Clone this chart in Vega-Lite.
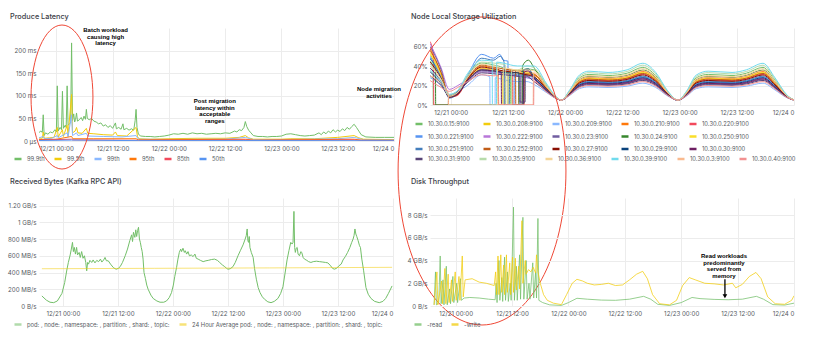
{
"$schema":"https://vega.github.io/schema/vega-lite/v6.json",
"background":"white",
"padding":{"left":7,"top":13,"right":4,"bottom":4},
"columns":2,
"bounds":"flush",
"spacing":{"row":57,"column":36},
"resolve":{"scale":{"color":"independent"},"legend":{"color":"independent"}},
"config":{
 "font":"Inter",
 "view":{"stroke":null},
 "axis":{"domain":false,"ticks":false,"labelFontSize":6.2,"labelColor":"#555a61","gridColor":"#ececec","gridWidth":1,"labelPadding":4,"labelOverlap":false},
 "axisY":{"labelPadding":3},
 "title":{"fontSize":7.3,"fontWeight":500,"color":"#3b4047","anchor":"start","frame":"group","baseline":"middle"},
 "legend":{"orient":"none","direction":"horizontal","symbolType":"stroke","symbolSize":49,"symbolStrokeWidth":2.5,"labelFontSize":5.8,"labelColor":"#555a61","labelOffset":4,"columnPadding":4,"rowPadding":2.5,"padding":0,"labelLimit":400}
},
"concat":[
{
 "width":355,"height":113,
 "title":{"text":"Produce Latency","dx":-29,"dy":8.7,"offset":11.3},
 "encoding":{
  "x":{"field":"h","type":"quantitative","scale":{"domain":[-3.7,72],"nice":false,"zero":false},"axis":{"title":null,"values":[0,12,24,36,48,60,72],"labelOverlap":false,"labelExpr":"datum.value==72?'12/24 0':'12/'+(21+floor(datum.value/24))+(datum.value%24==0?' 00:00':' 12:00')"}},
  "y":{"field":"v","type":"quantitative","scale":{"domain":[0,250],"nice":false},"axis":{"title":null,"values":[0,50,100,150,200],"labelExpr":"datum.value==0?'0 µs':datum.value+' ms'"}}
 },
 "layer":[
  {"data":{"values":[{"h":-4.3,"v":20},{"h":-3.8,"v":18},{"h":-3.3,"v":22},{"h":-3.0,"v":19},{"h":-2.8,"v":58},{"h":-2.6,"v":12},{"h":-2.3,"v":18},{"h":-1.8,"v":15},{"h":-1.3,"v":20},{"h":-0.8,"v":18},{"h":-0.3,"v":25},{"h":0.0,"v":20},{"h":0.2,"v":122},{"h":0.4,"v":22},{"h":0.8,"v":30},{"h":1.1,"v":25},{"h":1.3,"v":110},{"h":1.5,"v":28},{"h":1.9,"v":35},{"h":2.1,"v":30},{"h":2.3,"v":122},{"h":2.5,"v":35},{"h":2.8,"v":38},{"h":3.05,"v":40},{"h":3.25,"v":217},{"h":3.45,"v":45},{"h":3.7,"v":60},{"h":3.9,"v":42},{"h":4.1,"v":48},{"h":4.3,"v":62},{"h":4.5,"v":44},{"h":4.9,"v":47},{"h":5.3,"v":52},{"h":5.6,"v":45},{"h":5.9,"v":55},{"h":6.2,"v":48},{"h":6.4,"v":70},{"h":6.6,"v":50},{"h":7.0,"v":47},{"h":7.5,"v":50},{"h":8.0,"v":44},{"h":8.5,"v":42},{"h":9.0,"v":38},{"h":9.5,"v":40},{"h":10.0,"v":33},{"h":10.5,"v":36},{"h":11.0,"v":30},{"h":11.5,"v":34},{"h":12.0,"v":28},{"h":12.6,"v":40},{"h":12.8,"v":27},{"h":13.3,"v":30},{"h":13.8,"v":26},{"h":14.2,"v":38},{"h":14.4,"v":25},{"h":15.0,"v":28},{"h":15.5,"v":24},{"h":16.0,"v":27},{"h":16.5,"v":24},{"h":16.8,"v":45},{"h":17.0,"v":70},{"h":17.2,"v":30},{"h":17.5,"v":15},{"h":18.0,"v":11},{"h":19.0,"v":10},{"h":20.0,"v":10},{"h":21.0,"v":9},{"h":22.0,"v":10},{"h":23.0,"v":11},{"h":24.0,"v":13},{"h":25.0,"v":16},{"h":26.0,"v":15},{"h":27.0,"v":17},{"h":28.0,"v":15},{"h":29.0,"v":18},{"h":30.0,"v":16},{"h":31.0,"v":17},{"h":32.0,"v":15},{"h":33.0,"v":16},{"h":34.0,"v":17},{"h":35.0,"v":16},{"h":36.0,"v":18},{"h":37.0,"v":17},{"h":38.0,"v":22},{"h":38.5,"v":20},{"h":39.0,"v":25},{"h":39.5,"v":23},{"h":40.0,"v":30},{"h":40.3,"v":43},{"h":40.6,"v":32},{"h":41.0,"v":24},{"h":41.5,"v":18},{"h":42.0,"v":12},{"h":43.0,"v":10},{"h":44.0,"v":10},{"h":45.0,"v":9},{"h":46.0,"v":10},{"h":47.0,"v":10},{"h":48.0,"v":11},{"h":49.0,"v":15},{"h":50.0,"v":16},{"h":51.0,"v":14},{"h":52.0,"v":12},{"h":53.0,"v":11},{"h":54.0,"v":12},{"h":55.0,"v":13},{"h":56.0,"v":18},{"h":56.5,"v":14},{"h":57.0,"v":20},{"h":57.5,"v":16},{"h":58.0,"v":22},{"h":58.5,"v":18},{"h":59.0,"v":25},{"h":59.5,"v":20},{"h":60.0,"v":24},{"h":60.5,"v":21},{"h":61.0,"v":27},{"h":61.5,"v":23},{"h":62.0,"v":30},{"h":62.5,"v":26},{"h":63.0,"v":32},{"h":63.5,"v":37},{"h":64.0,"v":30},{"h":64.5,"v":22},{"h":65.0,"v":14},{"h":66.0,"v":9},{"h":68.0,"v":8},{"h":70.0,"v":8},{"h":72.0,"v":8}]},
   "mark":{"type":"line","strokeWidth":1,"clip":true},
   "encoding":{"color":{"datum":"99.9th","type":"nominal","scale":{"domain":["99.9th","99.5th","99th","95th","85th","50th"],"range":["#73BF69","#F2CC0C","#8AB8FF","#FF780A","#F2495C","#5794F2"]},"legend":{"title":null,"legendX":-26,"legendY":126,"columns":6}}}},
  {"data":{"values":[{"h":-4.3,"v":7},{"h":-3,"v":6},{"h":-2.8,"v":20},{"h":-2.6,"v":6},{"h":-1.5,"v":7},{"h":-0.5,"v":8},{"h":0.2,"v":30},{"h":0.4,"v":9},{"h":1.3,"v":25},{"h":1.5,"v":10},{"h":2.3,"v":35},{"h":2.5,"v":12},{"h":3.25,"v":103},{"h":3.45,"v":18},{"h":4.0,"v":22},{"h":4.3,"v":30},{"h":4.6,"v":18},{"h":5.5,"v":17},{"h":6.4,"v":28},{"h":6.7,"v":17},{"h":8,"v":16},{"h":10,"v":14},{"h":12,"v":13},{"h":12.6,"v":20},{"h":13,"v":12},{"h":15,"v":11},{"h":17.0,"v":30},{"h":17.3,"v":10},{"h":17.6,"v":5},{"h":20,"v":4},{"h":24,"v":5},{"h":30,"v":6},{"h":36,"v":6},{"h":39,"v":8},{"h":40.3,"v":12},{"h":41,"v":7},{"h":42,"v":4},{"h":48,"v":4},{"h":50,"v":5},{"h":55,"v":5},{"h":60,"v":8},{"h":63.5,"v":12},{"h":64.5,"v":7},{"h":65.5,"v":4},{"h":72,"v":3}]},
   "mark":{"type":"line","strokeWidth":1,"clip":true},"encoding":{"color":{"datum":"99.5th","type":"nominal"}}},
  {"data":{"values":[{"h":-4.3,"v":5},{"h":-2.8,"v":10},{"h":-2.6,"v":5},{"h":-1,"v":6},{"h":0.2,"v":12},{"h":0.4,"v":7},{"h":2.3,"v":18},{"h":2.5,"v":9},{"h":3.25,"v":58},{"h":3.45,"v":12},{"h":4.3,"v":18},{"h":4.6,"v":12},{"h":6.4,"v":17},{"h":6.7,"v":11},{"h":10,"v":10},{"h":14,"v":9},{"h":17,"v":12},{"h":17.5,"v":4},{"h":24,"v":3.5},{"h":36,"v":4},{"h":40.3,"v":8},{"h":42,"v":3},{"h":50,"v":3.5},{"h":60,"v":5},{"h":63.5,"v":8},{"h":65.5,"v":3},{"h":72,"v":2.5}]},
   "mark":{"type":"line","strokeWidth":1,"clip":true},"encoding":{"color":{"datum":"99th","type":"nominal"}}},
  {"data":{"values":[{"h":-4.3,"v":3},{"h":0,"v":4},{"h":3.25,"v":10},{"h":3.5,"v":5},{"h":8,"v":5},{"h":17,"v":5},{"h":17.5,"v":2.5},{"h":40.3,"v":4},{"h":42,"v":2},{"h":63.5,"v":4},{"h":65,"v":2},{"h":72,"v":1.8}]},
   "mark":{"type":"line","strokeWidth":1,"clip":true},"encoding":{"color":{"datum":"95th","type":"nominal"}}},
  {"data":{"values":[{"h":-4.3,"v":2},{"h":3.25,"v":4},{"h":3.5,"v":2.5},{"h":17.5,"v":1.5},{"h":40.3,"v":2.5},{"h":42,"v":1.2},{"h":63.5,"v":2.5},{"h":65,"v":1.2},{"h":72,"v":1}]},
   "mark":{"type":"line","strokeWidth":1,"clip":true},"encoding":{"color":{"datum":"85th","type":"nominal"}}},
  {"data":{"values":[{"h":-4.3,"v":1},{"h":3.25,"v":2},{"h":17.5,"v":0.8},{"h":40,"v":1},{"h":72,"v":0.6}]},
   "mark":{"type":"line","strokeWidth":1,"clip":true},"encoding":{"color":{"datum":"50th","type":"nominal"}}},
  {"data":{"values":[{"h":10.5,"v":252,"t":"Batch workload\ncausing high\nlatency"},{"h":33.8,"v":95,"t":"Post migration\nlatency within\nacceptable\nranges"},{"h":68.8,"v":120.6,"t":"Node migration\nactivities"}]},
   "mark":{"type":"text","font":"Liberation Sans","fontWeight":"bold","fontSize":6,"lineHeight":6.5,"lineBreak":"\n","baseline":"top","align":"center","color":"black"},
   "encoding":{"text":{"field":"t","type":"nominal"}}},
  {"data":{"values":[{"h":1.2,"v":97.3}]},
   "mark":{"type":"point","shape":"M0,-1C0.2375,-1,0.43,-0.5523,0.43,0C0.43,0.5523,0.2375,1,0,1C-0.2375,1,-0.43,0.5523,-0.43,0C-0.43,-0.5523,-0.2375,-1,0,-1Z","size":20736,"filled":false,"color":"#ef4836","strokeWidth":1,"opacity":1}}
 ]
},
{
 "width":364,"height":77,
 "title":{"text":"Node Local Storage Utilization","dx":-19,"dy":16.7,"offset":11.3},
 "data":{"values":[
{"n":"15","h":-4.3,"v":45},{"n":"15","h":-3.7,"v":40},{"n":"15","h":-3.65,"v":0},{"n":"15","h":-0.5,"v":0},{"n":"15","h":-0.45,"v":9},{"n":"15","h":1.5,"v":13},{"n":"15","h":3.5,"v":30},{"n":"15","h":6.5,"v":43},{"n":"15","h":9,"v":41},{"n":"15","h":11,"v":38},{"n":"15","h":11.05,"v":0},{"n":"15","h":12.5,"v":0},{"n":"15","h":12.55,"v":36},{"n":"15","h":14,"v":35},{"n":"15","h":16,"v":37},{"n":"15","h":17.5,"v":36},
{"n":"15","h":20,"v":20.6},{"n":"15","h":22,"v":8.6},{"n":"15","h":23.2,"v":5},{"n":"15","h":25,"v":14.6},{"n":"15","h":27,"v":27.8},{"n":"15","h":29,"v":31.4},{"n":"15","h":33,"v":30.2},{"n":"15","h":37,"v":32.6},{"n":"15","h":40.3,"v":38.6},{"n":"15","h":43,"v":30.2},{"n":"15","h":45.5,"v":13.4},{"n":"15","h":47.7,"v":5},{"n":"15","h":49.5,"v":13.4},{"n":"15","h":51.5,"v":27.8},{"n":"15","h":54,"v":31.4},{"n":"15","h":59,"v":30.2},{"n":"15","h":62,"v":32.6},{"n":"15","h":65.5,"v":38.6},{"n":"15","h":68,"v":25.4},{"n":"15","h":70.5,"v":9.8},{"n":"15","h":72,"v":5},
{"n":"208","h":-4.3,"v":52},{"n":"208","h":-2,"v":30},{"n":"208","h":-0.3,"v":8},{"n":"208","h":1.5,"v":12},{"n":"208","h":3.5,"v":25},{"n":"208","h":6.5,"v":37},{"n":"208","h":9,"v":35},{"n":"208","h":11,"v":33},{"n":"208","h":12.8,"v":33},{"n":"208","h":12.85,"v":0},{"n":"208","h":14.2,"v":0},{"n":"208","h":14.25,"v":31},{"n":"208","h":16,"v":32},{"n":"208","h":17.5,"v":31},
{"n":"208","h":20,"v":18},{"n":"208","h":22,"v":8},{"n":"208","h":23.2,"v":5},{"n":"208","h":25,"v":13},{"n":"208","h":27,"v":24},{"n":"208","h":29,"v":27},{"n":"208","h":33,"v":26},{"n":"208","h":37,"v":28},{"n":"208","h":40.3,"v":33},{"n":"208","h":43,"v":26},{"n":"208","h":45.5,"v":12},{"n":"208","h":47.7,"v":5},{"n":"208","h":49.5,"v":12},{"n":"208","h":51.5,"v":24},{"n":"208","h":54,"v":27},{"n":"208","h":59,"v":26},{"n":"208","h":62,"v":28},{"n":"208","h":65.5,"v":33},{"n":"208","h":68,"v":22},{"n":"208","h":70.5,"v":9},{"n":"208","h":72,"v":5},
{"n":"209","h":-4.3,"v":28},{"n":"209","h":-2,"v":20},{"n":"209","h":-0.3,"v":10},{"n":"209","h":1.5,"v":14},{"n":"209","h":3.5,"v":20},{"n":"209","h":6.5,"v":31},{"n":"209","h":8.2,"v":29},{"n":"209","h":8.25,"v":0},{"n":"209","h":9.3,"v":0},{"n":"209","h":9.35,"v":28},{"n":"209","h":11,"v":26},{"n":"209","h":14,"v":24},{"n":"209","h":16,"v":24},{"n":"209","h":17.5,"v":21},
{"n":"209","h":20,"v":13.1},{"n":"209","h":22,"v":6.9},{"n":"209","h":23.2,"v":5},{"n":"209","h":25,"v":10},{"n":"209","h":27,"v":16.8},{"n":"209","h":29,"v":18.6},{"n":"209","h":33,"v":18},{"n":"209","h":37,"v":19.3},{"n":"209","h":40.3,"v":22.4},{"n":"209","h":43,"v":18},{"n":"209","h":45.5,"v":9.3},{"n":"209","h":47.7,"v":5},{"n":"209","h":49.5,"v":9.3},{"n":"209","h":51.5,"v":16.8},{"n":"209","h":54,"v":18.6},{"n":"209","h":59,"v":18},{"n":"209","h":62,"v":19.3},{"n":"209","h":65.5,"v":22.4},{"n":"209","h":68,"v":15.5},{"n":"209","h":70.5,"v":7.5},{"n":"209","h":72,"v":5},
{"n":"210","h":-4.3,"v":58},{"n":"210","h":-2,"v":33},{"n":"210","h":-0.3,"v":8},{"n":"210","h":1.5,"v":11},{"n":"210","h":3.5,"v":27},{"n":"210","h":6.5,"v":40},{"n":"210","h":9,"v":38},{"n":"210","h":10,"v":37},{"n":"210","h":10.05,"v":0},{"n":"210","h":11.5,"v":0},{"n":"210","h":11.55,"v":36},{"n":"210","h":14,"v":35},{"n":"210","h":16,"v":34},{"n":"210","h":17.5,"v":32},
{"n":"210","h":20,"v":18.7},{"n":"210","h":22,"v":8.2},{"n":"210","h":23.2,"v":5},{"n":"210","h":25,"v":13.4},{"n":"210","h":27,"v":25},{"n":"210","h":29,"v":28.1},{"n":"210","h":33,"v":27.1},{"n":"210","h":37,"v":29.2},{"n":"210","h":40.3,"v":34.4},{"n":"210","h":43,"v":27.1},{"n":"210","h":45.5,"v":12.4},{"n":"210","h":47.7,"v":5},{"n":"210","h":49.5,"v":12.4},{"n":"210","h":51.5,"v":25},{"n":"210","h":54,"v":28.1},{"n":"210","h":59,"v":27.1},{"n":"210","h":62,"v":29.2},{"n":"210","h":65.5,"v":34.4},{"n":"210","h":68,"v":22.9},{"n":"210","h":70.5,"v":9.2},{"n":"210","h":72,"v":5},
{"n":"220","h":-4.3,"v":65},{"n":"220","h":-3.6,"v":50},{"n":"220","h":-3.55,"v":0},{"n":"220","h":-0.5,"v":0},{"n":"220","h":-0.45,"v":7},{"n":"220","h":1.5,"v":10},{"n":"220","h":3.5,"v":26},{"n":"220","h":6.5,"v":38},{"n":"220","h":9,"v":36},{"n":"220","h":11,"v":35},{"n":"220","h":13,"v":34},{"n":"220","h":13.05,"v":0},{"n":"220","h":15,"v":0},{"n":"220","h":15.05,"v":30},{"n":"220","h":17.5,"v":30},
{"n":"220","h":20,"v":17.4},{"n":"220","h":22,"v":7.9},{"n":"220","h":23.2,"v":5},{"n":"220","h":25,"v":12.6},{"n":"220","h":27,"v":23.1},{"n":"220","h":29,"v":25.9},{"n":"220","h":33,"v":25},{"n":"220","h":37,"v":26.9},{"n":"220","h":40.3,"v":31.6},{"n":"220","h":43,"v":25},{"n":"220","h":45.5,"v":11.7},{"n":"220","h":47.7,"v":5},{"n":"220","h":49.5,"v":11.7},{"n":"220","h":51.5,"v":23.1},{"n":"220","h":54,"v":25.9},{"n":"220","h":59,"v":25},{"n":"220","h":62,"v":26.9},{"n":"220","h":65.5,"v":31.6},{"n":"220","h":68,"v":21.2},{"n":"220","h":70.5,"v":8.8},{"n":"220","h":72,"v":5},
{"n":"221","h":-4.3,"v":50},{"n":"221","h":-2,"v":28},{"n":"221","h":-0.3,"v":7},{"n":"221","h":1.5,"v":12},{"n":"221","h":3.5,"v":30},{"n":"221","h":6.5,"v":52},{"n":"221","h":9,"v":48},{"n":"221","h":10.3,"v":52},{"n":"221","h":11,"v":46},{"n":"221","h":12,"v":45},{"n":"221","h":12.05,"v":0},{"n":"221","h":13.3,"v":0},{"n":"221","h":13.35,"v":30},{"n":"221","h":16,"v":28},{"n":"221","h":17.5,"v":27},
{"n":"221","h":20,"v":16.1},{"n":"221","h":22,"v":7.6},{"n":"221","h":23.2,"v":5},{"n":"221","h":25,"v":11.8},{"n":"221","h":27,"v":21.2},{"n":"221","h":29,"v":23.7},{"n":"221","h":33,"v":22.9},{"n":"221","h":37,"v":24.6},{"n":"221","h":40.3,"v":28.8},{"n":"221","h":43,"v":22.9},{"n":"221","h":45.5,"v":11},{"n":"221","h":47.7,"v":5},{"n":"221","h":49.5,"v":11},{"n":"221","h":51.5,"v":21.2},{"n":"221","h":54,"v":23.7},{"n":"221","h":59,"v":22.9},{"n":"221","h":62,"v":24.6},{"n":"221","h":65.5,"v":28.8},{"n":"221","h":68,"v":19.5},{"n":"221","h":70.5,"v":8.4},{"n":"221","h":72,"v":5},
{"n":"222","h":-4.3,"v":63},{"n":"222","h":-2,"v":38},{"n":"222","h":-0.3,"v":16},{"n":"222","h":1.5,"v":20},{"n":"222","h":3.5,"v":26},{"n":"222","h":6.5,"v":34},{"n":"222","h":9,"v":33},{"n":"222","h":11,"v":32},{"n":"222","h":14,"v":30},{"n":"222","h":16,"v":28},{"n":"222","h":17.5,"v":26},
{"n":"222","h":20,"v":15.4},{"n":"222","h":22,"v":7.4},{"n":"222","h":23.2,"v":5},{"n":"222","h":25,"v":11.4},{"n":"222","h":27,"v":20.2},{"n":"222","h":29,"v":22.6},{"n":"222","h":33,"v":21.8},{"n":"222","h":37,"v":23.4},{"n":"222","h":40.3,"v":27.4},{"n":"222","h":43,"v":21.8},{"n":"222","h":45.5,"v":10.6},{"n":"222","h":47.7,"v":5},{"n":"222","h":49.5,"v":10.6},{"n":"222","h":51.5,"v":20.2},{"n":"222","h":54,"v":22.6},{"n":"222","h":59,"v":21.8},{"n":"222","h":62,"v":23.4},{"n":"222","h":65.5,"v":27.4},{"n":"222","h":68,"v":18.6},{"n":"222","h":70.5,"v":8.2},{"n":"222","h":72,"v":5},
{"n":"23","h":-4.3,"v":60},{"n":"23","h":-2,"v":36},{"n":"23","h":-0.3,"v":9},{"n":"23","h":1.5,"v":12},{"n":"23","h":3.5,"v":24},{"n":"23","h":6.5,"v":35},{"n":"23","h":9,"v":34},{"n":"23","h":11,"v":33},{"n":"23","h":11.4,"v":33},{"n":"23","h":11.45,"v":0},{"n":"23","h":14.7,"v":0},{"n":"23","h":14.75,"v":34},{"n":"23","h":16,"v":36},{"n":"23","h":17.5,"v":28},
{"n":"23","h":20,"v":14.8},{"n":"23","h":22,"v":7.3},{"n":"23","h":23.2,"v":5},{"n":"23","h":25,"v":11},{"n":"23","h":27,"v":19.3},{"n":"23","h":29,"v":21.5},{"n":"23","h":33,"v":20.8},{"n":"23","h":37,"v":22.3},{"n":"23","h":40.3,"v":26},{"n":"23","h":43,"v":20.8},{"n":"23","h":45.5,"v":10.3},{"n":"23","h":47.7,"v":5},{"n":"23","h":49.5,"v":10.3},{"n":"23","h":51.5,"v":19.3},{"n":"23","h":54,"v":21.5},{"n":"23","h":59,"v":20.8},{"n":"23","h":62,"v":22.3},{"n":"23","h":65.5,"v":26},{"n":"23","h":68,"v":17.8},{"n":"23","h":70.5,"v":8},{"n":"23","h":72,"v":5},
{"n":"24","h":-4.3,"v":47},{"n":"24","h":-3.2,"v":38},{"n":"24","h":-3.15,"v":0},{"n":"24","h":15,"v":0},{"n":"24","h":15.05,"v":40},{"n":"24","h":16.3,"v":46},{"n":"24","h":17.5,"v":38},
{"n":"24","h":20,"v":19.3},{"n":"24","h":22,"v":8.3},{"n":"24","h":23.2,"v":5},{"n":"24","h":25,"v":13.8},{"n":"24","h":27,"v":25.9},{"n":"24","h":29,"v":29.2},{"n":"24","h":33,"v":28.1},{"n":"24","h":37,"v":30.3},{"n":"24","h":40.3,"v":35.8},{"n":"24","h":43,"v":28.1},{"n":"24","h":45.5,"v":12.7},{"n":"24","h":47.7,"v":5},{"n":"24","h":49.5,"v":12.7},{"n":"24","h":51.5,"v":25.9},{"n":"24","h":54,"v":29.2},{"n":"24","h":59,"v":28.1},{"n":"24","h":62,"v":30.3},{"n":"24","h":65.5,"v":35.8},{"n":"24","h":68,"v":23.7},{"n":"24","h":70.5,"v":9.4},{"n":"24","h":72,"v":5},
{"n":"250","h":-4.3,"v":54},{"n":"250","h":-2,"v":31},{"n":"250","h":-0.3,"v":9},{"n":"250","h":1.5,"v":12},{"n":"250","h":3.5,"v":26},{"n":"250","h":6.5,"v":38},{"n":"250","h":9,"v":36},{"n":"250","h":10.8,"v":35},{"n":"250","h":10.85,"v":0},{"n":"250","h":12,"v":0},{"n":"250","h":12.05,"v":34},{"n":"250","h":14,"v":33},{"n":"250","h":16,"v":33},{"n":"250","h":17.5,"v":31},
{"n":"250","h":20,"v":18.3},{"n":"250","h":22,"v":8.1},{"n":"250","h":23.2,"v":5},{"n":"250","h":25,"v":13.2},{"n":"250","h":27,"v":24.4},{"n":"250","h":29,"v":27.4},{"n":"250","h":33,"v":26.4},{"n":"250","h":37,"v":28.5},{"n":"250","h":40.3,"v":33.6},{"n":"250","h":43,"v":26.4},{"n":"250","h":45.5,"v":12.1},{"n":"250","h":47.7,"v":5},{"n":"250","h":49.5,"v":12.1},{"n":"250","h":51.5,"v":24.4},{"n":"250","h":54,"v":27.4},{"n":"250","h":59,"v":26.4},{"n":"250","h":62,"v":28.5},{"n":"250","h":65.5,"v":33.6},{"n":"250","h":68,"v":22.3},{"n":"250","h":70.5,"v":9.1},{"n":"250","h":72,"v":5},
{"n":"251","h":-4.3,"v":48},{"n":"251","h":-2,"v":28},{"n":"251","h":-0.3,"v":8},{"n":"251","h":1.5,"v":12},{"n":"251","h":3.5,"v":28},{"n":"251","h":6.5,"v":48},{"n":"251","h":9,"v":46},{"n":"251","h":10.4,"v":50},{"n":"251","h":11.2,"v":44},{"n":"251","h":11.25,"v":0},{"n":"251","h":12.3,"v":0},{"n":"251","h":12.35,"v":32},{"n":"251","h":14,"v":31},{"n":"251","h":16,"v":30},{"n":"251","h":17.5,"v":28},
{"n":"251","h":20,"v":16.4},{"n":"251","h":22,"v":7.6},{"n":"251","h":23.2,"v":5},{"n":"251","h":25,"v":12},{"n":"251","h":27,"v":21.7},{"n":"251","h":29,"v":24.4},{"n":"251","h":33,"v":23.5},{"n":"251","h":37,"v":25.2},{"n":"251","h":40.3,"v":29.6},{"n":"251","h":43,"v":23.5},{"n":"251","h":45.5,"v":11.2},{"n":"251","h":47.7,"v":5},{"n":"251","h":49.5,"v":11.2},{"n":"251","h":51.5,"v":21.7},{"n":"251","h":54,"v":24.4},{"n":"251","h":59,"v":23.5},{"n":"251","h":62,"v":25.2},{"n":"251","h":65.5,"v":29.6},{"n":"251","h":68,"v":20},{"n":"251","h":70.5,"v":8.5},{"n":"251","h":72,"v":5},
{"n":"252","h":-4.3,"v":56},{"n":"252","h":-2,"v":33},{"n":"252","h":-0.3,"v":9},{"n":"252","h":1.5,"v":12},{"n":"252","h":3.5,"v":27},{"n":"252","h":6.5,"v":41},{"n":"252","h":9,"v":39},{"n":"252","h":11,"v":37},{"n":"252","h":13.6,"v":35},{"n":"252","h":13.65,"v":0},{"n":"252","h":15.4,"v":0},{"n":"252","h":15.45,"v":32},{"n":"252","h":17.5,"v":31},
{"n":"252","h":20,"v":17.7},{"n":"252","h":22,"v":7.9},{"n":"252","h":23.2,"v":5},{"n":"252","h":25,"v":12.8},{"n":"252","h":27,"v":23.6},{"n":"252","h":29,"v":26.6},{"n":"252","h":33,"v":25.6},{"n":"252","h":37,"v":27.5},{"n":"252","h":40.3,"v":32.4},{"n":"252","h":43,"v":25.6},{"n":"252","h":45.5,"v":11.9},{"n":"252","h":47.7,"v":5},{"n":"252","h":49.5,"v":11.9},{"n":"252","h":51.5,"v":23.6},{"n":"252","h":54,"v":26.6},{"n":"252","h":59,"v":25.6},{"n":"252","h":62,"v":27.5},{"n":"252","h":65.5,"v":32.4},{"n":"252","h":68,"v":21.7},{"n":"252","h":70.5,"v":8.9},{"n":"252","h":72,"v":5},
{"n":"27","h":-4.3,"v":44},{"n":"27","h":-2,"v":27},{"n":"27","h":-0.3,"v":8},{"n":"27","h":1.5,"v":11},{"n":"27","h":3.5,"v":26},{"n":"27","h":6.5,"v":39},{"n":"27","h":9,"v":37},{"n":"27","h":11,"v":35},{"n":"27","h":14,"v":33},{"n":"27","h":16,"v":31},{"n":"27","h":17.5,"v":29},
{"n":"27","h":20,"v":17},{"n":"27","h":22,"v":7.8},{"n":"27","h":23.2,"v":5},{"n":"27","h":25,"v":12.4},{"n":"27","h":27,"v":22.5},{"n":"27","h":29,"v":25.2},{"n":"27","h":33,"v":24.3},{"n":"27","h":37,"v":26.2},{"n":"27","h":40.3,"v":30.8},{"n":"27","h":43,"v":24.3},{"n":"27","h":45.5,"v":11.4},{"n":"27","h":47.7,"v":5},{"n":"27","h":49.5,"v":11.4},{"n":"27","h":51.5,"v":22.5},{"n":"27","h":54,"v":25.2},{"n":"27","h":59,"v":24.3},{"n":"27","h":62,"v":26.2},{"n":"27","h":65.5,"v":30.8},{"n":"27","h":68,"v":20.6},{"n":"27","h":70.5,"v":8.7},{"n":"27","h":72,"v":5},
{"n":"29","h":-4.3,"v":34},{"n":"29","h":-2,"v":22},{"n":"29","h":-0.3,"v":9},{"n":"29","h":1.5,"v":12},{"n":"29","h":3.5,"v":25},{"n":"29","h":6.5,"v":36},{"n":"29","h":9,"v":35},{"n":"29","h":12,"v":33},{"n":"29","h":14.3,"v":33},{"n":"29","h":14.35,"v":0},{"n":"29","h":15.2,"v":0},{"n":"29","h":15.25,"v":36},{"n":"29","h":16.3,"v":37},{"n":"29","h":17.5,"v":28},
{"n":"29","h":20,"v":15.7},{"n":"29","h":22,"v":7.5},{"n":"29","h":23.2,"v":5},{"n":"29","h":25,"v":11.6},{"n":"29","h":27,"v":20.6},{"n":"29","h":29,"v":23},{"n":"29","h":33,"v":22.2},{"n":"29","h":37,"v":23.9},{"n":"29","h":40.3,"v":28},{"n":"29","h":43,"v":22.2},{"n":"29","h":45.5,"v":10.7},{"n":"29","h":47.7,"v":5},{"n":"29","h":49.5,"v":10.7},{"n":"29","h":51.5,"v":20.6},{"n":"29","h":54,"v":23},{"n":"29","h":59,"v":22.2},{"n":"29","h":62,"v":23.9},{"n":"29","h":65.5,"v":28},{"n":"29","h":68,"v":18.9},{"n":"29","h":70.5,"v":8.3},{"n":"29","h":72,"v":5},
{"n":"30","h":-4.3,"v":38},{"n":"30","h":-2,"v":24},{"n":"30","h":-0.3,"v":9},{"n":"30","h":1.5,"v":12},{"n":"30","h":3.5,"v":25},{"n":"30","h":6.5,"v":36},{"n":"30","h":9,"v":35},{"n":"30","h":10.6,"v":34},{"n":"30","h":10.65,"v":0},{"n":"30","h":15.3,"v":0},{"n":"30","h":15.35,"v":33},{"n":"30","h":16.2,"v":35},{"n":"30","h":17.5,"v":27},
{"n":"30","h":20,"v":15.1},{"n":"30","h":22,"v":7.3},{"n":"30","h":23.2,"v":5},{"n":"30","h":25,"v":11.2},{"n":"30","h":27,"v":19.8},{"n":"30","h":29,"v":22.2},{"n":"30","h":33,"v":21.4},{"n":"30","h":37,"v":22.9},{"n":"30","h":40.3,"v":26.8},{"n":"30","h":43,"v":21.4},{"n":"30","h":45.5,"v":10.5},{"n":"30","h":47.7,"v":5},{"n":"30","h":49.5,"v":10.5},{"n":"30","h":51.5,"v":19.8},{"n":"30","h":54,"v":22.2},{"n":"30","h":59,"v":21.4},{"n":"30","h":62,"v":22.9},{"n":"30","h":65.5,"v":26.8},{"n":"30","h":68,"v":18.3},{"n":"30","h":70.5,"v":8.1},{"n":"30","h":72,"v":5},
{"n":"31","h":-4.3,"v":30},{"n":"31","h":-2,"v":20},{"n":"31","h":-0.3,"v":10},{"n":"31","h":1.5,"v":14},{"n":"31","h":3.5,"v":23},{"n":"31","h":6.5,"v":33},{"n":"31","h":9,"v":32},{"n":"31","h":11,"v":31},{"n":"31","h":14.5,"v":29},{"n":"31","h":14.55,"v":3},{"n":"31","h":15.6,"v":3},{"n":"31","h":15.65,"v":30},{"n":"31","h":17.5,"v":24},
{"n":"31","h":20,"v":14.4},{"n":"31","h":22,"v":7.2},{"n":"31","h":23.2,"v":5},{"n":"31","h":25,"v":10.8},{"n":"31","h":27,"v":18.7},{"n":"31","h":29,"v":20.8},{"n":"31","h":33,"v":20.1},{"n":"31","h":37,"v":21.6},{"n":"31","h":40.3,"v":25.2},{"n":"31","h":43,"v":20.1},{"n":"31","h":45.5,"v":10},{"n":"31","h":47.7,"v":5},{"n":"31","h":49.5,"v":10},{"n":"31","h":51.5,"v":18.7},{"n":"31","h":54,"v":20.8},{"n":"31","h":59,"v":20.1},{"n":"31","h":62,"v":21.6},{"n":"31","h":65.5,"v":25.2},{"n":"31","h":68,"v":17.2},{"n":"31","h":70.5,"v":7.9},{"n":"31","h":72,"v":5},
{"n":"35","h":-4.3,"v":42},{"n":"35","h":-2,"v":26},{"n":"35","h":-0.3,"v":10},{"n":"35","h":1.5,"v":15},{"n":"35","h":3.5,"v":30},{"n":"35","h":6.5,"v":44},{"n":"35","h":9,"v":43},{"n":"35","h":11.5,"v":41},{"n":"35","h":11.55,"v":0},{"n":"35","h":12.7,"v":0},{"n":"35","h":12.75,"v":36},{"n":"35","h":14,"v":36},{"n":"35","h":16,"v":40},{"n":"35","h":17.5,"v":38},
{"n":"35","h":20,"v":21.6},{"n":"35","h":22,"v":8.8},{"n":"35","h":23.2,"v":5},{"n":"35","h":25,"v":15.2},{"n":"35","h":27,"v":29.3},{"n":"35","h":29,"v":33.2},{"n":"35","h":33,"v":31.9},{"n":"35","h":37,"v":34.4},{"n":"35","h":40.3,"v":40.8},{"n":"35","h":43,"v":31.9},{"n":"35","h":45.5,"v":14},{"n":"35","h":47.7,"v":5},{"n":"35","h":49.5,"v":14},{"n":"35","h":51.5,"v":29.3},{"n":"35","h":54,"v":33.2},{"n":"35","h":59,"v":31.9},{"n":"35","h":62,"v":34.4},{"n":"35","h":65.5,"v":40.8},{"n":"35","h":68,"v":26.8},{"n":"35","h":70.5,"v":10.1},{"n":"35","h":72,"v":5},
{"n":"36","h":-4.3,"v":40},{"n":"36","h":-2,"v":26},{"n":"36","h":-0.3,"v":9},{"n":"36","h":1.5,"v":13},{"n":"36","h":3.5,"v":28},{"n":"36","h":6.5,"v":42},{"n":"36","h":9,"v":40},{"n":"36","h":9.8,"v":40},{"n":"36","h":9.85,"v":0},{"n":"36","h":11,"v":0},{"n":"36","h":11.05,"v":38},{"n":"36","h":14,"v":36},{"n":"36","h":16,"v":36},{"n":"36","h":17.5,"v":35},
{"n":"36","h":20,"v":20},{"n":"36","h":22,"v":8.5},{"n":"36","h":23.2,"v":5},{"n":"36","h":25,"v":14.2},{"n":"36","h":27,"v":26.9},{"n":"36","h":29,"v":30.3},{"n":"36","h":33,"v":29.2},{"n":"36","h":37,"v":31.5},{"n":"36","h":40.3,"v":37.2},{"n":"36","h":43,"v":29.2},{"n":"36","h":45.5,"v":13.1},{"n":"36","h":47.7,"v":5},{"n":"36","h":49.5,"v":13.1},{"n":"36","h":51.5,"v":26.9},{"n":"36","h":54,"v":30.3},{"n":"36","h":59,"v":29.2},{"n":"36","h":62,"v":31.5},{"n":"36","h":65.5,"v":37.2},{"n":"36","h":68,"v":24.6},{"n":"36","h":70.5,"v":9.6},{"n":"36","h":72,"v":5},
{"n":"39","h":-4.3,"v":36},{"n":"39","h":-2,"v":24},{"n":"39","h":-0.3,"v":11},{"n":"39","h":1.5,"v":15},{"n":"39","h":3.5,"v":32},{"n":"39","h":6.5,"v":46},{"n":"39","h":8.7,"v":45},{"n":"39","h":8.75,"v":0},{"n":"39","h":9.6,"v":0},{"n":"39","h":9.65,"v":44},{"n":"39","h":11,"v":43},{"n":"39","h":14,"v":40},{"n":"39","h":16,"v":40},{"n":"39","h":17.5,"v":40},
{"n":"39","h":20,"v":22.6},{"n":"39","h":22,"v":9.1},{"n":"39","h":23.2,"v":5},{"n":"39","h":25,"v":15.8},{"n":"39","h":27,"v":30.7},{"n":"39","h":29,"v":34.7},{"n":"39","h":33,"v":33.4},{"n":"39","h":37,"v":36.1},{"n":"39","h":40.3,"v":42.8},{"n":"39","h":43,"v":33.4},{"n":"39","h":45.5,"v":14.5},{"n":"39","h":47.7,"v":5},{"n":"39","h":49.5,"v":14.5},{"n":"39","h":51.5,"v":30.7},{"n":"39","h":54,"v":34.7},{"n":"39","h":59,"v":33.4},{"n":"39","h":62,"v":36.1},{"n":"39","h":65.5,"v":42.8},{"n":"39","h":68,"v":28},{"n":"39","h":70.5,"v":10.4},{"n":"39","h":72,"v":5},
{"n":"3","h":-4.3,"v":30},{"n":"3","h":-2,"v":22},{"n":"3","h":-0.5,"v":12},{"n":"3","h":-0.45,"v":0},{"n":"3","h":17.3,"v":0},{"n":"3","h":17.35,"v":33},{"n":"3","h":17.5,"v":33},
{"n":"3","h":20,"v":19},{"n":"3","h":22,"v":8.2},{"n":"3","h":23.2,"v":5},{"n":"3","h":25,"v":13.6},{"n":"3","h":27,"v":25.5},{"n":"3","h":29,"v":28.8},{"n":"3","h":33,"v":27.7},{"n":"3","h":37,"v":29.8},{"n":"3","h":40.3,"v":35.2},{"n":"3","h":43,"v":27.7},{"n":"3","h":45.5,"v":12.6},{"n":"3","h":47.7,"v":5},{"n":"3","h":49.5,"v":12.6},{"n":"3","h":51.5,"v":25.5},{"n":"3","h":54,"v":28.8},{"n":"3","h":59,"v":27.7},{"n":"3","h":62,"v":29.8},{"n":"3","h":65.5,"v":35.2},{"n":"3","h":68,"v":23.4},{"n":"3","h":70.5,"v":9.3},{"n":"3","h":72,"v":5},
{"n":"40","h":-4.3,"v":25},{"n":"40","h":-2,"v":18},{"n":"40","h":-0.3,"v":14},{"n":"40","h":1.5,"v":18},{"n":"40","h":3.5,"v":24},{"n":"40","h":6.5,"v":31},{"n":"40","h":9,"v":30},{"n":"40","h":10,"v":30},{"n":"40","h":10.05,"v":0},{"n":"40","h":17.4,"v":0},{"n":"40","h":17.45,"v":24},{"n":"40","h":17.5,"v":24},
{"n":"40","h":20,"v":13.8},{"n":"40","h":22,"v":7},{"n":"40","h":23.2,"v":5},{"n":"40","h":25,"v":10.4},{"n":"40","h":27,"v":17.9},{"n":"40","h":29,"v":20},{"n":"40","h":33,"v":19.3},{"n":"40","h":37,"v":20.6},{"n":"40","h":40.3,"v":24},{"n":"40","h":43,"v":19.3},{"n":"40","h":45.5,"v":9.8},{"n":"40","h":47.7,"v":5},{"n":"40","h":49.5,"v":9.8},{"n":"40","h":51.5,"v":17.9},{"n":"40","h":54,"v":20},{"n":"40","h":59,"v":19.3},{"n":"40","h":62,"v":20.6},{"n":"40","h":65.5,"v":24},{"n":"40","h":68,"v":16.6},{"n":"40","h":70.5,"v":7.7},{"n":"40","h":72,"v":5}
 ]},
 "encoding":{
  "x":{"field":"h","type":"quantitative","scale":{"domain":[-4.34,72],"nice":false,"zero":false},"axis":{"title":null,"values":[0,12,24,36,48,60,72],"labelExpr":"datum.value==72?'12/24 0':'12/'+(21+floor(datum.value/24))+(datum.value%24==0?' 00:00':' 12:00')"}},
  "y":{"field":"v","type":"quantitative","scale":{"domain":[0,79],"nice":false},"axis":{"title":null,"values":[0,20,40,60],"labelExpr":"datum.value+'%'"}}
 },
 "layer":[
  {"transform":[{"filter":{"field":"n","oneOf":["15","208","209","210","220","221","222","23","24","250","251","252","27","29","30"]}}],
   "mark":{"type":"line","strokeWidth":1,"interpolate":"monotone","clip":true},
   "encoding":{"color":{"field":"n","type":"nominal","scale":{"domain":["15","208","209","210","220","221","222","23","24","250","251","252","27","29","30"],"range":["#73BF69","#F2CC0C","#8AB8FF","#FF780A","#F2495C","#5794F2","#B877D9","#705DA0","#37872D","#FADE2A","#447EBC","#C15C17","#890F02","#0A437C","#6D1F62"]},"legend":{"title":null,"legendX":-16,"legendY":91,"columns":5,"labelExpr":"'10.30.0.'+datum.label+':9100'"}}}},
  {"transform":[{"filter":{"field":"n","oneOf":["31","35","36","39","3","40"]}}],
   "mark":{"type":"line","strokeWidth":1,"interpolate":"monotone","clip":true},
   "encoding":{"color":{"field":"n","type":"nominal","scale":{"domain":["31","35","36","39","3","40"],"range":["#584477","#B7DBAB","#F4D598","#70DBED","#F9BA8F","#F29191"]},"legend":{"title":null,"legendX":-16,"legendY":126,"columns":6,"labelExpr":"'10.30.0.'+datum.label+':9100'"}}}},
  {"data":{"values":[{"h":6.57,"v":-67.7}]},
   "mark":{"type":"point","shape":"M0,-1C0.301,-1,0.545,-0.5523,0.545,0C0.545,0.5523,0.301,1,0,1C-0.301,1,-0.545,0.5523,-0.545,0C-0.545,-0.5523,-0.301,-1,0,-1Z","size":94864,"filled":false,"color":"#ef4836","strokeWidth":1,"opacity":1}}
 ],
 "resolve":{"scale":{"color":"independent"},"legend":{"color":"independent"}}
},
{
 "width":354,"height":108,
 "title":{"text":"Received Bytes (Kafka RPC API)","dx":-29,"dy":2.8,"offset":15.7},
 "encoding":{
  "x":{"field":"h","type":"quantitative","scale":{"domain":[-5.2,72],"nice":false,"zero":false},"axis":{"title":null,"values":[0,12,24,36,48,60,72],"labelExpr":"datum.value==72?'12/24 0':'12/'+(21+floor(datum.value/24))+(datum.value%24==0?' 00:00':' 12:00')"}},
  "y":{"field":"v","type":"quantitative","scale":{"domain":[0,1290],"nice":false},"axis":{"title":null,"values":[0,200,400,600,800,1000,1200],"labelExpr":"datum.value==0?'0 B/s':datum.value==1000?'1 GB/s':datum.value==1200?'1.20 GB/s':datum.value+' MB/s'"}}
 },
 "layer":[
  {"data":{"values":[{"h":-4.57,"v":120},{"h":-3.6,"v":70},{"h":-2.8,"v":45},{"h":-2.0,"v":40},{"h":-1.2,"v":60},{"h":-0.2,"v":150},{"h":0.4,"v":280},{"h":0.87,"v":430},{"h":1.2,"v":520},{"h":1.6,"v":610},{"h":1.85,"v":680},{"h":2.1,"v":760},{"h":2.3,"v":650},{"h":2.5,"v":700},{"h":2.75,"v":620},{"h":3.0,"v":700},{"h":3.2,"v":610},{"h":3.56,"v":640},{"h":3.8,"v":580},{"h":4.1,"v":650},{"h":4.4,"v":570},{"h":4.7,"v":600},{"h":5.0,"v":520},{"h":5.2,"v":420},{"h":5.4,"v":520},{"h":5.6,"v":500},{"h":5.9,"v":545},{"h":6.3,"v":520},{"h":6.6,"v":550},{"h":7.0,"v":515},{"h":7.4,"v":545},{"h":7.8,"v":530},{"h":8.2,"v":560},{"h":8.5,"v":525},{"h":8.9,"v":550},{"h":9.2,"v":580},{"h":9.5,"v":540},{"h":9.9,"v":540},{"h":10.4,"v":500},{"h":11.0,"v":460},{"h":11.4,"v":445},{"h":11.7,"v":440},{"h":12.1,"v":450},{"h":12.5,"v":470},{"h":13.0,"v":520},{"h":13.6,"v":600},{"h":14.1,"v":680},{"h":14.6,"v":780},{"h":15.0,"v":850},{"h":15.2,"v":770},{"h":15.4,"v":880},{"h":15.7,"v":820},{"h":15.9,"v":910},{"h":16.1,"v":830},{"h":16.3,"v":900},{"h":16.5,"v":940},{"h":16.7,"v":800},{"h":16.9,"v":760},{"h":17.1,"v":700},{"h":17.3,"v":650},{"h":17.5,"v":560},{"h":17.7,"v":400},{"h":18.0,"v":330},{"h":18.3,"v":250},{"h":18.6,"v":200},{"h":19.2,"v":130},{"h":19.7,"v":90},{"h":20.5,"v":60},{"h":21.2,"v":45},{"h":22.0,"v":45},{"h":22.6,"v":60},{"h":23.2,"v":100},{"h":23.7,"v":160},{"h":24.1,"v":250},{"h":24.4,"v":350},{"h":24.8,"v":460},{"h":25.1,"v":560},{"h":25.4,"v":640},{"h":25.7,"v":680},{"h":25.9,"v":650},{"h":26.2,"v":690},{"h":26.5,"v":640},{"h":26.7,"v":660},{"h":27.0,"v":620},{"h":27.3,"v":650},{"h":27.6,"v":600},{"h":28.0,"v":610},{"h":28.4,"v":590},{"h":28.8,"v":620},{"h":29.1,"v":570},{"h":29.5,"v":560},{"h":30.0,"v":545},{"h":30.6,"v":530},{"h":31.2,"v":540},{"h":31.7,"v":545},{"h":32.4,"v":555},{"h":33.1,"v":560},{"h":33.7,"v":545},{"h":34.2,"v":520},{"h":34.8,"v":490},{"h":35.3,"v":470},{"h":35.7,"v":450},{"h":36.0,"v":440},{"h":36.5,"v":445},{"h":37.1,"v":470},{"h":37.6,"v":520},{"h":38.2,"v":600},{"h":38.7,"v":660},{"h":39.3,"v":730},{"h":39.7,"v":790},{"h":40.0,"v":840},{"h":40.2,"v":920},{"h":40.35,"v":780},{"h":40.5,"v":760},{"h":40.65,"v":830},{"h":40.8,"v":700},{"h":41.1,"v":640},{"h":41.5,"v":580},{"h":41.8,"v":450},{"h":42.2,"v":320},{"h":42.6,"v":220},{"h":43.0,"v":160},{"h":43.5,"v":110},{"h":44.0,"v":80},{"h":44.7,"v":50},{"h":45.4,"v":40},{"h":46.1,"v":55},{"h":46.9,"v":90},{"h":47.5,"v":150},{"h":48.0,"v":230},{"h":48.4,"v":370},{"h":48.9,"v":550},{"h":49.3,"v":660},{"h":49.7,"v":760},{"h":50.0,"v":740},{"h":50.2,"v":760},{"h":50.4,"v":1130},{"h":50.55,"v":700},{"h":50.7,"v":640},{"h":50.9,"v":690},{"h":51.1,"v":700},{"h":51.3,"v":620},{"h":51.6,"v":600},{"h":51.9,"v":650},{"h":52.1,"v":640},{"h":52.4,"v":580},{"h":52.7,"v":560},{"h":53.2,"v":545},{"h":53.6,"v":530},{"h":54.1,"v":520},{"h":54.6,"v":530},{"h":55.3,"v":535},{"h":56.0,"v":530},{"h":56.7,"v":525},{"h":57.3,"v":520},{"h":57.8,"v":515},{"h":58.4,"v":480},{"h":58.8,"v":450},{"h":59.2,"v":440},{"h":59.7,"v":450},{"h":60.2,"v":480},{"h":60.7,"v":500},{"h":61.1,"v":550},{"h":61.6,"v":590},{"h":62.1,"v":640},{"h":62.6,"v":700},{"h":63.0,"v":760},{"h":63.3,"v":800},{"h":63.5,"v":840},{"h":63.7,"v":920},{"h":63.9,"v":860},{"h":64.1,"v":830},{"h":64.4,"v":780},{"h":64.7,"v":720},{"h":64.9,"v":700},{"h":65.2,"v":560},{"h":65.6,"v":420},{"h":66.1,"v":220},{"h":66.6,"v":140},{"h":67.2,"v":90},{"h":68.0,"v":55},{"h":69.0,"v":40},{"h":69.8,"v":55},{"h":70.4,"v":90},{"h":71.0,"v":150},{"h":71.8,"v":240}]},
   "mark":{"type":"line","strokeWidth":1,"clip":true},
   "encoding":{"color":{"datum":"pod: , node: , namespace: , partition: , shard: , topic:","type":"nominal","scale":{"domain":["pod: , node: , namespace: , partition: , shard: , topic:","24 Hour Average pod: , node: , namespace: , partition: , shard: , topic:"],"range":["#73BF69","#F2CC0C"]},"legend":{"title":null,"legendX":-26,"legendY":121.5,"columns":2,"symbolOpacity":1}}}},
  {"data":{"values":[{"h":-4.57,"v":445},{"h":20,"v":450},{"h":45,"v":455},{"h":71.8,"v":462}]},
   "mark":{"type":"line","strokeWidth":1,"opacity":0.55,"clip":true},
   "encoding":{"color":{"datum":"24 Hour Average pod: , node: , namespace: , partition: , shard: , topic:","type":"nominal"}}}
 ]
},
{
 "width":364,"height":108,
 "title":{"text":"Disk Throughput","dx":-19,"dy":2.8,"offset":15.7},
 "encoding":{
  "x":{"field":"h","type":"quantitative","scale":{"domain":[-5.47,72],"nice":false,"zero":false},"axis":{"title":null,"values":[0,12,24,36,48,60,72],"labelExpr":"datum.value==72?'12/24 0':'12/'+(21+floor(datum.value/24))+(datum.value%24==0?' 00:00':' 12:00')"}},
  "y":{"field":"v","type":"quantitative","scale":{"domain":[0,9.5],"nice":false},"axis":{"title":null,"values":[0,2,4,6,8],"labelExpr":"datum.value==0?'0 B/s':datum.value+' GB/s'"}}
 },
 "layer":[
  {"data":{"values":[{"h":-4.6,"v":0.1},{"h":-4.3,"v":3.0},{"h":-4.1,"v":0.1},{"h":-3.6,"v":0.3},{"h":-3.3,"v":4.4},{"h":-3.1,"v":0.2},{"h":-2.7,"v":2.3},{"h":-2.5,"v":0.1},{"h":-2.0,"v":3.5},{"h":-1.8,"v":0.1},{"h":-1.3,"v":1.5},{"h":-1.1,"v":0.2},{"h":-0.6,"v":2.6},{"h":-0.4,"v":0.3},{"h":0.2,"v":2.0},{"h":0.4,"v":0.3},{"h":1.0,"v":2.4},{"h":1.2,"v":0.5},{"h":1.8,"v":0.7},{"h":3,"v":0.75},{"h":5,"v":0.7},{"h":7,"v":0.6},{"h":8.4,"v":0.55},{"h":8.6,"v":2.0},{"h":8.8,"v":0.3},{"h":9.2,"v":4.0},{"h":9.4,"v":0.5},{"h":9.8,"v":2.5},{"h":10.0,"v":0.4},{"h":10.4,"v":4.3},{"h":10.6,"v":0.5},{"h":11.0,"v":3.0},{"h":11.2,"v":0.4},{"h":11.6,"v":2.0},{"h":11.8,"v":0.5},{"h":12.3,"v":8.7},{"h":12.5,"v":0.5},{"h":12.9,"v":3.5},{"h":13.1,"v":0.5},{"h":13.6,"v":4.5},{"h":13.8,"v":0.6},{"h":14.3,"v":7.8},{"h":14.5,"v":0.6},{"h":15.0,"v":4.0},{"h":15.2,"v":0.6},{"h":15.6,"v":2.0},{"h":15.8,"v":0.6},{"h":16.4,"v":3.8},{"h":16.6,"v":0.7},{"h":17.0,"v":3.0},{"h":17.2,"v":0.7},{"h":17.5,"v":7.7},{"h":17.7,"v":0.5},{"h":18.5,"v":0.3},{"h":20,"v":0.1},{"h":22.5,"v":0.05},{"h":24,"v":0.3},{"h":25.8,"v":0.68},{"h":28,"v":0.6},{"h":31,"v":0.52},{"h":34,"v":0.5},{"h":37,"v":0.6},{"h":40,"v":0.85},{"h":41.5,"v":0.6},{"h":43,"v":0.15},{"h":45.5,"v":0.05},{"h":48,"v":0.3},{"h":50.3,"v":0.75},{"h":52,"v":0.65},{"h":55,"v":0.58},{"h":58,"v":0.55},{"h":61,"v":0.6},{"h":64,"v":0.85},{"h":65.5,"v":0.6},{"h":67.5,"v":0.12},{"h":70,"v":0.08},{"h":72,"v":0.25}]},
   "mark":{"type":"line","strokeWidth":1,"opacity":0.75,"clip":true},
   "encoding":{"color":{"datum":"-read","type":"nominal","scale":{"domain":["-read","-write"],"range":["#73BF69","#F2CC0C"]},"legend":{"title":null,"legendX":-17,"legendY":121.5,"columns":2,"symbolOpacity":1}}}},
  {"data":{"values":[{"h":-4.6,"v":0.1},{"h":-4.0,"v":3.0},{"h":-3.8,"v":0.1},{"h":-3.0,"v":2.2},{"h":-2.8,"v":0.2},{"h":-2.3,"v":3.3},{"h":-2.1,"v":0.2},{"h":-1.6,"v":2.8},{"h":-1.4,"v":0.3},{"h":-0.9,"v":2.3},{"h":-0.7,"v":0.4},{"h":-0.1,"v":3.0},{"h":0.1,"v":0.5},{"h":0.7,"v":2.6},{"h":0.9,"v":0.5},{"h":1.4,"v":4.4},{"h":1.6,"v":0.8},{"h":2.0,"v":2.3},{"h":3.5,"v":2.4},{"h":5,"v":2.1},{"h":6.5,"v":2.0},{"h":8.2,"v":1.8},{"h":8.5,"v":3.0},{"h":8.7,"v":1.0},{"h":9.0,"v":4.4},{"h":9.2,"v":1.0},{"h":9.6,"v":4.5},{"h":9.8,"v":1.2},{"h":10.2,"v":3.6},{"h":10.4,"v":1.0},{"h":10.8,"v":4.5},{"h":11.0,"v":1.2},{"h":11.5,"v":3.8},{"h":11.7,"v":1.0},{"h":12.1,"v":4.3},{"h":12.3,"v":1.2},{"h":12.7,"v":4.2},{"h":12.9,"v":1.4},{"h":13.4,"v":3.5},{"h":13.6,"v":1.5},{"h":14.1,"v":7.5},{"h":14.3,"v":2.0},{"h":14.8,"v":4.0},{"h":15.0,"v":2.8},{"h":15.5,"v":3.2},{"h":16.0,"v":3.0},{"h":16.5,"v":3.4},{"h":17.0,"v":2.9},{"h":17.2,"v":4.5},{"h":17.5,"v":3.0},{"h":18.0,"v":2.0},{"h":18.7,"v":1.0},{"h":19.5,"v":0.5},{"h":20.8,"v":0.25},{"h":22.5,"v":0.12},{"h":23.6,"v":1.0},{"h":24.8,"v":2.0},{"h":25.8,"v":2.35},{"h":27,"v":2.2},{"h":28,"v":2.0},{"h":29.5,"v":1.85},{"h":31,"v":1.9},{"h":32.5,"v":2.0},{"h":34,"v":1.8},{"h":35.5,"v":1.85},{"h":37,"v":2.3},{"h":38.5,"v":2.8},{"h":39.8,"v":3.05},{"h":40.8,"v":2.4},{"h":41.9,"v":1.0},{"h":43.4,"v":0.2},{"h":45.5,"v":0.1},{"h":47,"v":0.5},{"h":48.3,"v":1.8},{"h":49.7,"v":2.5},{"h":51,"v":2.3},{"h":53,"v":2.0},{"h":55,"v":1.95},{"h":57,"v":1.85},{"h":58.9,"v":2.0},{"h":59.6,"v":1.6},{"h":61,"v":1.9},{"h":62.5,"v":2.6},{"h":63.9,"v":2.95},{"h":65,"v":2.4},{"h":66.4,"v":0.8},{"h":68,"v":0.2},{"h":70,"v":0.15},{"h":71.5,"v":0.5},{"h":72,"v":0.9}]},
   "mark":{"type":"line","strokeWidth":1,"opacity":0.75,"clip":true},
   "encoding":{"color":{"datum":"-write","type":"nominal"}}},
  {"data":{"values":[{"h":57.1,"v":4.66,"t":"Read workloads\npredominantly\nserved from\nmemory"}]},
   "mark":{"type":"text","font":"Liberation Sans","fontWeight":"bold","fontSize":6,"lineHeight":6.5,"lineBreak":"\n","baseline":"top","align":"center","color":"black"},
   "encoding":{"text":{"field":"t","type":"nominal"}}},
  {"data":{"values":[{"h":57.3,"v":2.35,"v2":0.95}]},
   "mark":{"type":"rule","color":"black","strokeWidth":1.3},
   "encoding":{"y2":{"field":"v2"}}},
  {"data":{"values":[{"h":57.3,"v":0.85}]},
   "mark":{"type":"point","shape":"triangle-down","filled":true,"color":"black","size":22,"opacity":1}}
 ]
}
]
}
